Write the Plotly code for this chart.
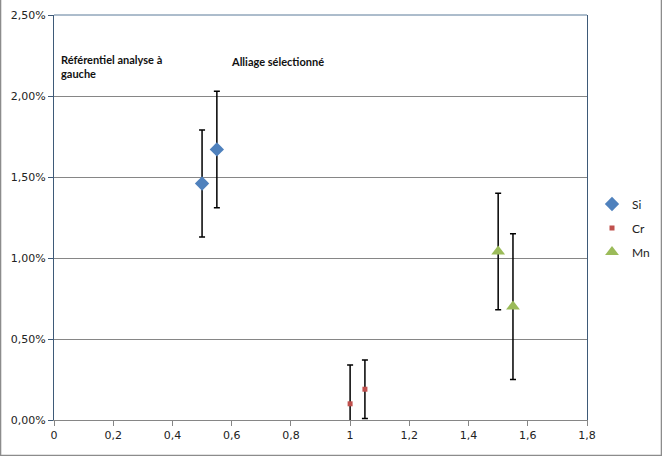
import plotly.graph_objects as go

# Data
si_x = [0.5, 0.55]
si_y = [0.0146, 0.0167]
si_err = [0.0033, 0.0036]

cr_x = [1.0, 1.05]
cr_y = [0.0010, 0.0019]
cr_err = [0.0024, 0.0018]

mn_x = [1.5, 1.55]
mn_y = [0.0104, 0.0070]
mn_err = [0.0036, 0.0045]

series = [
    ("Si", si_x, si_y, si_err, "#4F81BD", "diamond", 11),
    ("Cr", cr_x, cr_y, cr_err, "#C0504D", "square", 5),
    ("Mn", mn_x, mn_y, mn_err, "#9BBB59", "triangle-up", 12),
]

fig = go.Figure()
for i, (name, xs, ys, errs, col, sym, sz) in enumerate(series):
    fig.add_trace(go.Scatter(
        x=xs, y=ys, mode="markers", name=name,
        legendgroup=name,
        marker=dict(color=col, symbol=sym, size=sz, line=dict(width=0)),
        error_y=dict(type="data", array=errs, visible=True,
                     color="black", thickness=1.5, width=3),
    ))

fig.update_layout(
    width=662, height=456,
    margin=dict(l=54, r=75, t=15, b=36, autoexpand=False),
    paper_bgcolor="white", plot_bgcolor="white",
    separators=", ",
    font=dict(family="DejaVu Sans", size=11, color="#222"),
    showlegend=True,
    legend=dict(xref="container", yref="container",
                x=592/662, y=1-228/456, xanchor="left", yanchor="middle",
                font=dict(family="Lato", size=12, color="#222"),
                tracegroupgap=5, itemwidth=30, bgcolor="rgba(0,0,0,0)"),
    xaxis=dict(range=[0, 1.8], dtick=0.2, tick0=0, tickformat=".2~f",
               showgrid=False, zeroline=False, automargin=False,
               showline=True, linecolor="#868686", linewidth=1,
               ticks="outside", ticklen=5, tickcolor="#868686"),
    yaxis=dict(range=[0, 0.025], dtick=0.005, tickformat=".2%",
               showgrid=True, gridcolor="#868686", gridwidth=1,
               zeroline=False, automargin=False,
               showline=True, linecolor="#3E5A78", linewidth=1, mirror=True,
               ticks="outside", ticklen=5, tickcolor="#3E5A78"),
    annotations=[
        dict(text="<b>Référentiel analyse à<br>gauche</b>", xref="paper", yref="paper",
             x=0.0094, y=0.873, xanchor="left", yanchor="middle", align="left",
             showarrow=False, font=dict(family="Lato", size=11, color="#111")),
        dict(text="<b>Alliage sélectionné</b>", xref="paper", yref="paper",
             x=0.328, y=0.884, xanchor="left", yanchor="middle",
             showarrow=False, font=dict(family="Lato", size=11, color="#111")),
    ],
    shapes=[
        dict(type="line", xref="paper", yref="paper", x0=0, x1=1, y0=1, y1=1,
             line=dict(color="#5A7A99", width=1)),
        dict(type="rect", xref="paper", yref="paper",
             x0=-54/533 + 0.001, x1=(662-54)/533 - 0.001,
             y0=-36/405 + 0.001, y1=(456-15)/405 - 0.001,
             line=dict(color="#8C8C8C", width=1.5)),
    ],
)

fig.write_html(
    "out.html",
    config={"displayModeBar": False},
    post_script="document.body.style.margin='0';document.body.style.overflow='hidden';",
)
